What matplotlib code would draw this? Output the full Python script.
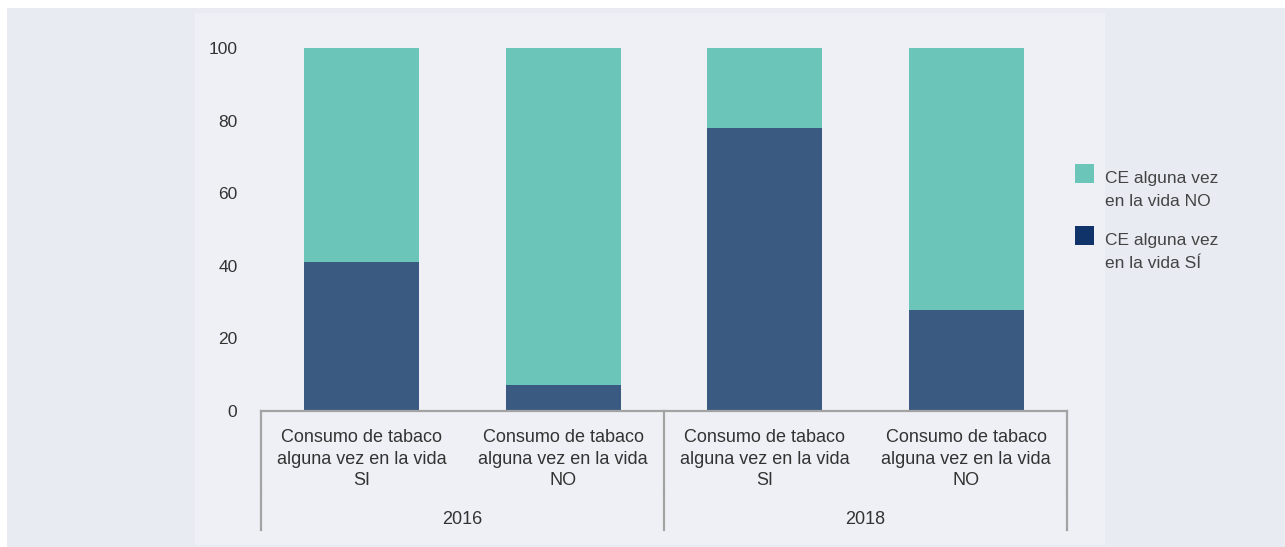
import matplotlib.pyplot as plt
from matplotlib.patches import Rectangle

plt.rcParams['font.family'] = ['Liberation Sans', 'DejaVu Sans']

# Datos
categorias = ["Consumo de tabaco\nalguna vez en la vida\nSI",
              "Consumo de tabaco\nalguna vez en la vida\nNO",
              "Consumo de tabaco\nalguna vez en la vida\nSI",
              "Consumo de tabaco\nalguna vez en la vida\nNO"]
anios = ["2016", "2018"]
ce_si = [41, 7.2, 78, 27.8]
ce_no = [100 - v for v in ce_si]
leyenda = ["CE alguna vez\nen la vida NO", "CE alguna vez\nen la vida SÍ"]

c_teal = "#6bc6b9"
c_azul = "#3a5a82"
c_azul_ley = "#10346a"
c_linea = "#a3a3a3"
c_texto = "#333333"

W, H = 1285, 547
fig = plt.figure(figsize=(W / 100, H / 100), dpi=100, facecolor="white")

# fondos
fig.patches.append(Rectangle((7 / W, 0), 1 - 7 / W, 1 - 8 / H, transform=fig.transFigure,
                             facecolor="#e9ebf3", edgecolor="none", zorder=-2))
fig.patches.append(Rectangle((195 / W, 1 - 545 / H), (1105 - 195) / W, (545 - 13) / H,
                             transform=fig.transFigure, facecolor="#eef0f5",
                             edgecolor="none", zorder=-1))

ax = fig.add_axes([261 / W, 1 - 411 / H, (1067 - 261) / W, 363 / H])
ax.set_facecolor("none")

x = range(len(categorias))
ax.bar(x, ce_si, width=0.57, color=c_azul)
ax.bar(x, ce_no, width=0.57, bottom=ce_si, color=c_teal)

ax.set_xlim(-0.5, 3.5)
ax.set_ylim(0, 100)
ax.set_yticks([0, 20, 40, 60, 80, 100])
ax.tick_params(axis="y", length=0, pad=17, labelsize=12.5, labelcolor=c_texto)
ax.set_xticks([])
for s in ["top", "right", "left"]:
    ax.spines[s].set_visible(False)
ax.spines["bottom"].set_color(c_linea)
ax.spines["bottom"].set_linewidth(1.6)

tr = ax.get_xaxis_transform()
fy = lambda p: (411 - p) / 363.0

for i, lab in enumerate(categorias):
    ax.text(i, fy(459), lab, transform=tr, ha="center", va="center",
            fontsize=13, color=c_texto, linespacing=1.32)
for j, a in enumerate(anios):
    ax.text(2 * j + 0.5, fy(519), a, transform=tr, ha="center", va="center",
            fontsize=13, color=c_texto)

for xv in [-0.5, 1.5, 3.5]:
    ax.plot([xv, xv], [0, fy(494)], transform=tr, color=c_linea, lw=1.6, clip_on=False)
    ax.plot([xv, xv], [fy(496), fy(530)], transform=tr, color=c_linea, lw=1.6, clip_on=False)

# leyenda
for k, (lab, col) in enumerate(zip(leyenda, [c_teal, c_azul_ley])):
    top = 164 + 62 * k
    fig.patches.append(Rectangle((1075 / W, 1 - (top + 19) / H), 19 / W, 19 / H,
                                 transform=fig.transFigure, facecolor=col, edgecolor="none"))
    fig.text(1105 / W, 1 - (top + 26) / H, lab, ha="left", va="center",
             fontsize=12.5, color="#444444", linespacing=1.7)

fig.savefig("out.png", dpi=100, facecolor="white")
